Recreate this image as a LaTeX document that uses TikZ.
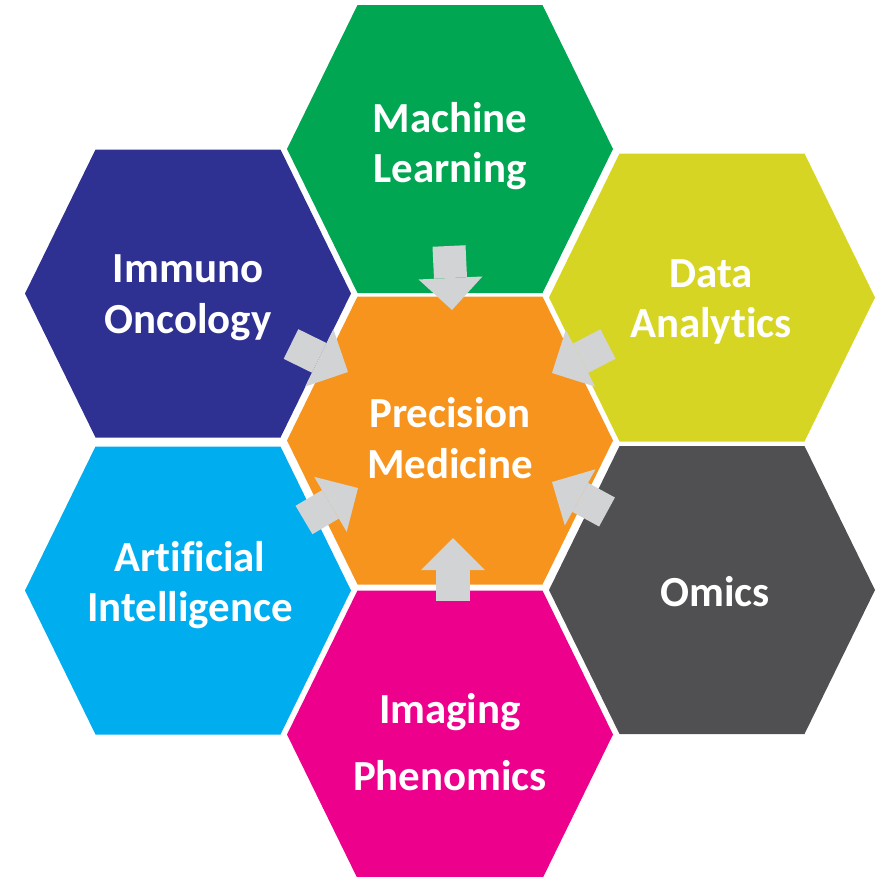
\documentclass[tikz,border=0pt]{standalone}
\usepackage{fontspec}
\setmainfont[Ligatures=NoCommon]{Carlito}
\usepackage{tikz}
\usetikzlibrary{arrows.meta}
\definecolor{MLGreen}{RGB}{0,166,81}
\definecolor{IONavy}{RGB}{46,49,146}
\definecolor{DAYellow}{RGB}{215,213,35}
\definecolor{PMOrange}{RGB}{247,148,29}
\definecolor{AICyan}{RGB}{0,174,239}
\definecolor{OMGrey}{RGB}{80,80,82}
\definecolor{IPMagenta}{RGB}{236,0,140}
\definecolor{ArrowGrey}{RGB}{209,211,212}
\newcommand{\hexagon}[2]{\fill[#1] (#2) ++(-163,0) -- ++(70.5,-144) -- ++(185,0) -- ++(70.5,144) -- ++(-70.5,144) -- ++(-185,0) -- cycle;}
\tikzset{
	hexlabel/.style={text=white, font=\fontsize{30.5}{36}\selectfont\bfseries, align=center},
	feed/.style={draw=ArrowGrey, line width=23.5pt, -{Triangle[length=22.8pt, width=45.5pt, line width=0pt]}},
}

\begin{document}
\begin{tikzpicture}[x=0.025cm, y=-0.025cm]
\useasboundingbox (0,0) rectangle (882,876);

% hexagons
\hexagon{MLGreen}{450,149}
\hexagon{IONavy}{188,293.5}
\hexagon{DAYellow}{712,297.5}
\hexagon{PMOrange}{450,440.5}
\hexagon{AICyan}{188,590.5}
\hexagon{OMGrey}{712,590}
\hexagon{IPMagenta}{450,734.5}

% labels
\node[hexlabel] (ml) at (450,146) {Machine\\Learning};
\node[hexlabel] (io) at (188,298) {Immuno\\Oncology};
\node[hexlabel] (da) at (711,302) {Data\\Analytics};
\node[hexlabel] (pm) at (450,438) {Precision\\Medicine};
\node[hexlabel] (ai) at (190,585) {Artificial\\Intelligence};
\node[hexlabel] (om) at (715,592) {Omics};
\node[hexlabel] (ip) at (450,742) {Imaging\\[11.7pt]Phenomics};

% arrows into the centre
\coordinate (mlTail) at (449,246); \coordinate (mlTip) at (452,310);
\coordinate (ioTail) at (291,344); \coordinate (ioTip) at (348,372);
\coordinate (daTail) at (608,344); \coordinate (daTip) at (552,373);
\coordinate (aiTail) at (304,520); \coordinate (aiTip) at (358,488);
\coordinate (omTail) at (607,512); \coordinate (omTip) at (552,482);
\coordinate (ipTail) at (453,601); \coordinate (ipTip) at (453,538);
\draw[feed] (mlTail) -- (mlTip);
\draw[feed] (ioTail) -- (ioTip);
\draw[feed] (daTail) -- (daTip);
\draw[feed] (aiTail) -- (aiTip);
\draw[feed] (omTail) -- (omTip);
\draw[feed] (ipTail) -- (ipTip);
\end{tikzpicture}
\end{document}
